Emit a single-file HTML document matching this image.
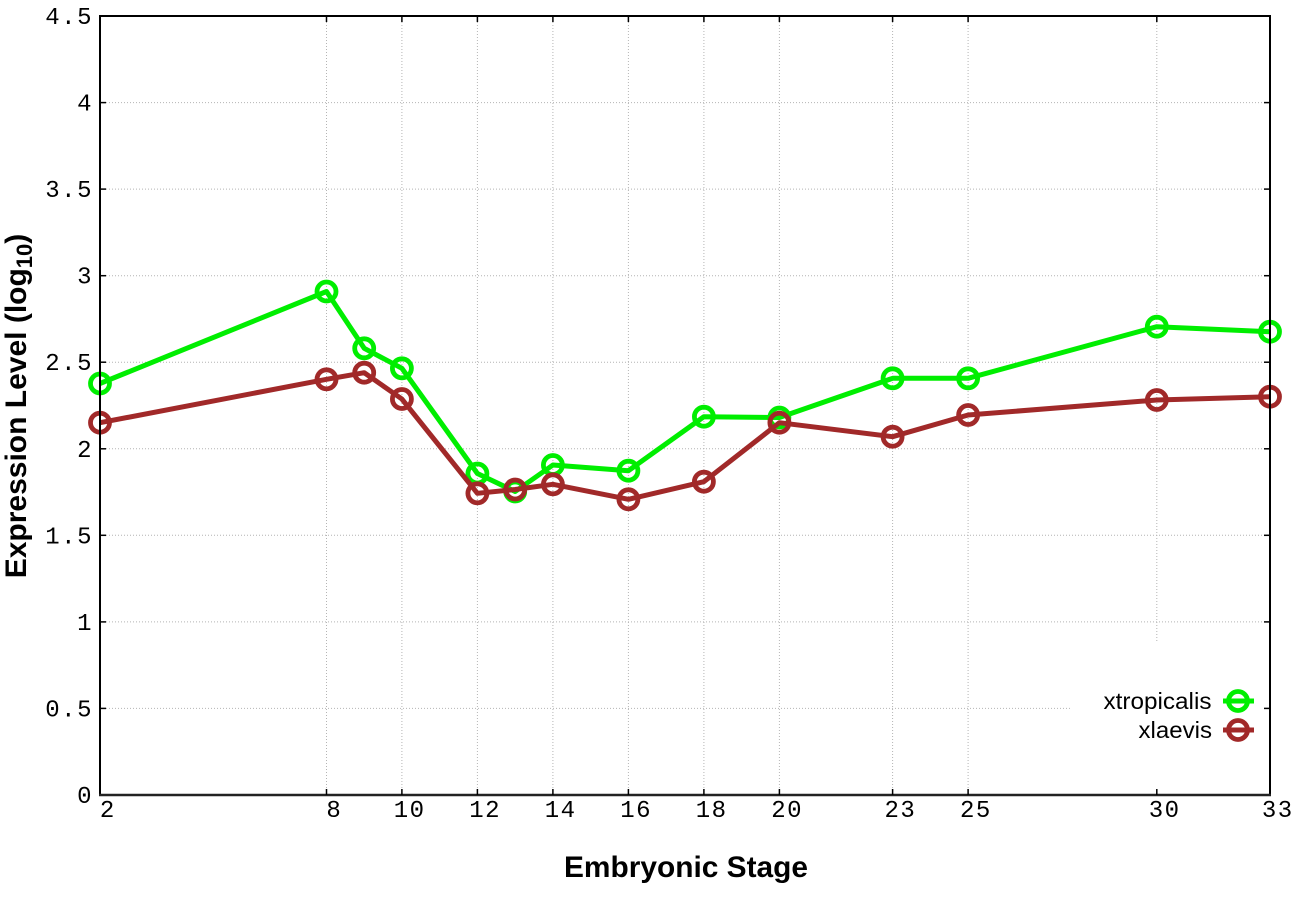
<!DOCTYPE html>
<html>
<head>
<meta charset="utf-8">
<style>
  html, body { margin: 0; padding: 0; background: #ffffff; }
  svg { display: block; }
</style>
</head>
<body>
<svg xmlns="http://www.w3.org/2000/svg" width="1296" height="907" viewBox="0 0 1296 907">
  <rect x="0" y="0" width="1296" height="907" fill="#ffffff"/>

  <!-- horizontal grid -->
  <g stroke="#b4b4b4" stroke-width="1" stroke-dasharray="1,2" fill="none">
    <line x1="100" y1="708.4" x2="1270" y2="708.4"/>
    <line x1="100" y1="621.9" x2="1270" y2="621.9"/>
    <line x1="100" y1="535.3" x2="1270" y2="535.3"/>
    <line x1="100" y1="448.8" x2="1270" y2="448.8"/>
    <line x1="100" y1="362.2" x2="1270" y2="362.2"/>
    <line x1="100" y1="275.7" x2="1270" y2="275.7"/>
    <line x1="100" y1="189.1" x2="1270" y2="189.1"/>
    <line x1="100" y1="102.6" x2="1270" y2="102.6"/>
    <!-- vertical grid -->
    <line x1="326.5" y1="16" x2="326.5" y2="795"/>
    <line x1="401.9" y1="16" x2="401.9" y2="795"/>
    <line x1="477.4" y1="16" x2="477.4" y2="795"/>
    <line x1="552.9" y1="16" x2="552.9" y2="795"/>
    <line x1="628.4" y1="16" x2="628.4" y2="795"/>
    <line x1="703.9" y1="16" x2="703.9" y2="795"/>
    <line x1="779.4" y1="16" x2="779.4" y2="795"/>
    <line x1="892.6" y1="16" x2="892.6" y2="795"/>
    <line x1="968.1" y1="16" x2="968.1" y2="795"/>
    <line x1="1156.8" y1="16" x2="1156.8" y2="795"/>
  </g>

  <!-- legend box (opaque, hides grid) -->
  <rect x="1070" y="642" width="199" height="152" fill="#ffffff"/>

  <!-- xtropicalis (green) -->
  <g stroke="#00ee00" stroke-width="5" fill="none" stroke-linejoin="round">
    <polyline points="100,383.5 326.5,291.5 364.2,348.3 401.9,368.3 477.4,473.5 515.2,491.5 552.9,465 628.4,470.7 703.9,416.7 779.4,417.5 892.6,378.3 968.1,378.3 1156.8,326.7 1270,331.7"/>
    <g stroke-width="4.8">
    <circle cx="100" cy="383.5" r="9.5"/>
    <circle cx="326.5" cy="291.5" r="9.5"/>
    <circle cx="364.2" cy="348.3" r="9.5"/>
    <circle cx="401.9" cy="368.3" r="9.5"/>
    <circle cx="477.4" cy="473.5" r="9.5"/>
    <circle cx="515.2" cy="491.5" r="9.5"/>
    <circle cx="552.9" cy="465" r="9.5"/>
    <circle cx="628.4" cy="470.7" r="9.5"/>
    <circle cx="703.9" cy="416.7" r="9.5"/>
    <circle cx="779.4" cy="417.5" r="9.5"/>
    <circle cx="892.6" cy="378.3" r="9.5"/>
    <circle cx="968.1" cy="378.3" r="9.5"/>
    <circle cx="1156.8" cy="326.7" r="9.5"/>
    <circle cx="1270" cy="331.7" r="9.5"/>
    <circle cx="1238" cy="701" r="9.5"/>
    </g>
    <line x1="1223" y1="701" x2="1254" y2="701"/>
  </g>

  <!-- xlaevis (brown) -->
  <g stroke="#a12929" stroke-width="5" fill="none" stroke-linejoin="round">
    <polyline points="100,422.7 326.5,379.3 364.2,372.7 401.9,399 477.4,493.3 515.2,489.5 552.9,484.3 628.4,499.3 703.9,481.7 779.4,422.7 892.6,436.7 968.1,415 1156.8,400 1270,396.7"/>
    <g stroke-width="4.8">
    <circle cx="100" cy="422.7" r="9.5"/>
    <circle cx="326.5" cy="379.3" r="9.5"/>
    <circle cx="364.2" cy="372.7" r="9.5"/>
    <circle cx="401.9" cy="399" r="9.5"/>
    <circle cx="477.4" cy="493.3" r="9.5"/>
    <circle cx="515.2" cy="489.5" r="9.5"/>
    <circle cx="552.9" cy="484.3" r="9.5"/>
    <circle cx="628.4" cy="499.3" r="9.5"/>
    <circle cx="703.9" cy="481.7" r="9.5"/>
    <circle cx="779.4" cy="422.7" r="9.5"/>
    <circle cx="892.6" cy="436.7" r="9.5"/>
    <circle cx="968.1" cy="415" r="9.5"/>
    <circle cx="1156.8" cy="400" r="9.5"/>
    <circle cx="1270" cy="396.7" r="9.5"/>
    <circle cx="1238" cy="730" r="9.5"/>
    </g>
    <line x1="1223" y1="730" x2="1254" y2="730"/>
  </g>

  <!-- border -->
  <rect x="100" y="16" width="1170" height="779" fill="none" stroke="#000000" stroke-width="2"/>
  <line x1="99" y1="795" x2="1271" y2="795" stroke="#222222" stroke-width="2.5"/>

  <!-- ticks -->
  <g stroke="#000000" stroke-width="1.5">
    <line x1="100" y1="708.4" x2="106" y2="708.4"/><line x1="1270" y1="708.4" x2="1264" y2="708.4"/>
    <line x1="100" y1="621.9" x2="106" y2="621.9"/><line x1="1270" y1="621.9" x2="1264" y2="621.9"/>
    <line x1="100" y1="535.3" x2="106" y2="535.3"/><line x1="1270" y1="535.3" x2="1264" y2="535.3"/>
    <line x1="100" y1="448.8" x2="106" y2="448.8"/><line x1="1270" y1="448.8" x2="1264" y2="448.8"/>
    <line x1="100" y1="362.2" x2="106" y2="362.2"/><line x1="1270" y1="362.2" x2="1264" y2="362.2"/>
    <line x1="100" y1="275.7" x2="106" y2="275.7"/><line x1="1270" y1="275.7" x2="1264" y2="275.7"/>
    <line x1="100" y1="189.1" x2="106" y2="189.1"/><line x1="1270" y1="189.1" x2="1264" y2="189.1"/>
    <line x1="100" y1="102.6" x2="106" y2="102.6"/><line x1="1270" y1="102.6" x2="1264" y2="102.6"/>
    <line x1="326.5" y1="795" x2="326.5" y2="789"/><line x1="326.5" y1="16" x2="326.5" y2="22"/>
    <line x1="401.9" y1="795" x2="401.9" y2="789"/><line x1="401.9" y1="16" x2="401.9" y2="22"/>
    <line x1="477.4" y1="795" x2="477.4" y2="789"/><line x1="477.4" y1="16" x2="477.4" y2="22"/>
    <line x1="552.9" y1="795" x2="552.9" y2="789"/><line x1="552.9" y1="16" x2="552.9" y2="22"/>
    <line x1="628.4" y1="795" x2="628.4" y2="789"/><line x1="628.4" y1="16" x2="628.4" y2="22"/>
    <line x1="703.9" y1="795" x2="703.9" y2="789"/><line x1="703.9" y1="16" x2="703.9" y2="22"/>
    <line x1="779.4" y1="795" x2="779.4" y2="789"/><line x1="779.4" y1="16" x2="779.4" y2="22"/>
    <line x1="892.6" y1="795" x2="892.6" y2="789"/><line x1="892.6" y1="16" x2="892.6" y2="22"/>
    <line x1="968.1" y1="795" x2="968.1" y2="789"/><line x1="968.1" y1="16" x2="968.1" y2="22"/>
    <line x1="1156.8" y1="795" x2="1156.8" y2="789"/><line x1="1156.8" y1="16" x2="1156.8" y2="22"/>
  </g>

  <!-- y tick labels -->
  <g font-family="'Liberation Mono', 'DejaVu Sans Mono', monospace" font-size="24" fill="#000000" text-anchor="end" letter-spacing="1.5">
    <text x="93" y="803">0</text>
    <text x="93" y="716.4">0.5</text>
    <text x="93" y="629.9">1</text>
    <text x="93" y="543.3">1.5</text>
    <text x="93" y="456.8">2</text>
    <text x="93" y="370.2">2.5</text>
    <text x="93" y="283.7">3</text>
    <text x="93" y="197.1">3.5</text>
    <text x="93" y="110.6">4</text>
    <text x="93" y="24">4.5</text>
  </g>

  <!-- x tick labels -->
  <g font-family="'Liberation Mono', 'DejaVu Sans Mono', monospace" font-size="24" fill="#000000" text-anchor="middle" letter-spacing="1.5">
    <text x="107.8" y="817">2</text>
    <text x="334.3" y="817">8</text>
    <text x="409.7" y="817">10</text>
    <text x="485.2" y="817">12</text>
    <text x="560.7" y="817">14</text>
    <text x="636.2" y="817">16</text>
    <text x="711.7" y="817">18</text>
    <text x="787.2" y="817">20</text>
    <text x="900.4" y="817">23</text>
    <text x="975.9" y="817">25</text>
    <text x="1164.6" y="817">30</text>
    <text x="1277.8" y="817">33</text>
  </g>

  <!-- legend text -->
  <g font-family="'Liberation Sans', Arial, sans-serif" font-size="23" fill="#000000">
    <text x="1103.5" y="709" textLength="108" lengthAdjust="spacingAndGlyphs">xtropicalis</text>
    <text x="1138.5" y="738" textLength="73.5" lengthAdjust="spacingAndGlyphs">xlaevis</text>
  </g>

  <!-- axis titles -->
  <text x="686" y="877" font-family="'Liberation Sans', Arial, sans-serif" font-size="30" font-weight="bold" text-anchor="middle" fill="#000000" textLength="244" lengthAdjust="spacingAndGlyphs">Embryonic Stage</text>
  <text transform="translate(26,406) rotate(-90)" font-family="'Liberation Sans', Arial, sans-serif" font-size="30" font-weight="bold" text-anchor="middle" fill="#000000">Expression Level (log<tspan font-size="22" dy="6">10</tspan><tspan dy="-6">)</tspan></text>
</svg>
</body>
</html>
